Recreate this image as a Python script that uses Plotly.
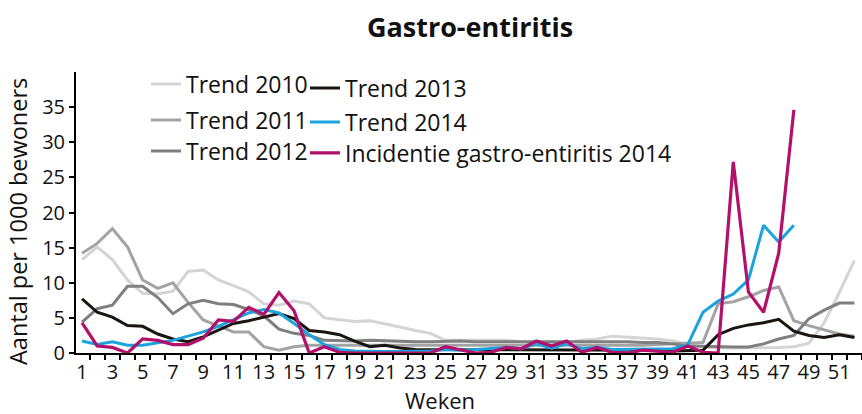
import plotly.graph_objects as go

weeks = list(range(1, 53))
weeks_2014 = list(range(1, 49))

trend_2010 = [13.3, 15.1, 13.3, 10.4, 8.5, 8.4, 8.8, 11.6, 11.8, 10.4,
              9.6, 8.7, 7.0, 6.8, 7.4, 7.0, 5.0, 4.7, 4.5, 4.6,
              4.2, 3.7, 3.2, 2.8, 1.8, 1.8, 1.7, 1.7, 1.8, 1.6,
              1.6, 1.5, 1.5, 1.8, 2.0, 2.4, 2.3, 2.1, 2.0, 1.7,
              1.2, 0.9, 0.7, 0.7, 0.7, 0.7, 0.8, 0.9, 1.4, 4.3,
              8.6, 13.2]
trend_2011 = [14.2, 15.6, 17.7, 15.1, 10.4, 9.2, 10.0, 7.2, 4.7, 3.9,
              3.0, 3.0, 0.9, 0.4, 0.9, 1.1, 1.1, 1.1, 1.1, 1.1,
              1.1, 1.0, 1.0, 1.0, 1.0, 1.0, 1.0, 1.0, 1.0, 1.0,
              1.0, 1.0, 1.0, 1.0, 1.0, 1.0, 1.1, 1.1, 1.2, 1.3,
              1.3, 1.5, 7.0, 7.3, 8.0, 8.9, 9.4, 4.6, 3.9, 3.3,
              2.7, 2.4]
trend_2012 = [4.4, 6.3, 6.8, 9.5, 9.5, 7.9, 5.6, 7.0, 7.5, 7.0,
              6.9, 6.2, 5.3, 3.4, 2.8, 2.5, 1.8, 1.7, 1.7, 1.8,
              1.7, 1.7, 1.6, 1.6, 1.7, 1.7, 1.6, 1.6, 1.7, 1.7,
              1.6, 1.6, 1.6, 1.7, 1.7, 1.6, 1.6, 1.5, 1.5, 1.3,
              1.0, 0.95, 0.85, 0.85, 0.85, 1.3, 2.0, 2.5, 4.9, 6.1,
              7.1, 7.1]
trend_2013 = [7.7, 5.8, 5.1, 3.9, 3.8, 2.7, 2.0, 1.6, 2.3, 3.3,
              4.2, 4.6, 5.1, 5.6, 4.9, 3.2, 3.0, 2.6, 1.7, 0.9,
              1.1, 0.7, 0.5, 0.5, 0.5, 0.5, 0.5, 0.4, 0.4, 0.5,
              0.5, 0.4, 0.4, 0.4, 0.4, 0.4, 0.4, 0.4, 0.4, 0.3,
              0.4, 0.4, 2.6, 3.5, 4.0, 4.3, 4.8, 3.1, 2.5, 2.2,
              2.6, 2.2]
trend_2014 = [1.7, 1.2, 1.6, 1.1, 1.1, 1.4, 1.8, 2.4, 3.0, 3.8,
              4.7, 5.7, 6.2, 5.7, 4.2, 2.6, 1.2, 0.5, 0.3, 0.2,
              0.2, 0.2, 0.2, 0.3, 0.5, 0.4, 0.5, 0.6, 0.8, 0.6,
              1.3, 0.7, 1.3, 0.6, 0.8, 0.5, 0.5, 0.5, 0.5, 0.6,
              1.2, 5.8, 7.4, 8.4, 10.4, 18.2, 15.8, 18.2]
incidentie_2014 = [4.3, 1.0, 0.8, 0.0, 2.0, 1.8, 1.2, 1.2, 2.1, 4.7,
                   4.5, 6.5, 5.5, 8.6, 6.0, 0.0, 0.9, 0.1, 0.0, 0.0,
                   0.0, 0.0, 0.0, 0.0, 0.9, 0.4, 0.0, 0.1, 0.8, 0.6,
                   1.7, 1.0, 1.7, 0.1, 0.8, 0.1, 0.0, 0.4, 0.2, 0.1,
                   1.0, 0.1, 0.0, 27.2, 8.7, 5.8, 14.2, 34.6]

y_ticks = [0, 5, 10, 15, 20, 25, 30, 35]
x_label_weeks = weeks[::2]

FONT = "Open Sans"
W, H = 862, 414
ML, MR, MT, MB = 76, 0, 72, 61
PW, PH = W - ML - MR, H - MT - MB


def px(xp):
    return (xp - ML) / PW


def py(yp):
    return (H - MB - yp) / PH


series = [
    ("Trend 2010", weeks, trend_2010, "#d4d4d4", 3, "legend", 154, 84),
    ("Trend 2011", weeks, trend_2011, "#a3a3a3", 3, "legend2", 154, 120),
    ("Trend 2012", weeks, trend_2012, "#7f7f7f", 3, "legend3", 154, 151),
    ("Trend 2013", weeks, trend_2013, "#1a1511", 3, "legend4", 313, 88),
    ("Trend 2014", weeks_2014, trend_2014, "#1ba3de", 3, "legend5", 313, 122),
    ("Incidentie gastro-entiritis 2014", weeks_2014, incidentie_2014, "#b3106c", 3.2, "legend6", 313, 153),
]

fig = go.Figure()
legends = {}
for name, xs, ys, color, lw, lg, lx, ly in series:
    fig.add_trace(go.Scatter(x=xs, y=ys, mode="lines", name=name,
                             line=dict(color=color, width=lw),
                             legend=lg, showlegend=True))
    legends[lg] = dict(x=px(lx - 8), y=py(ly), xref="paper", yref="paper",
                       xanchor="left", yanchor="middle", bgcolor="rgba(0,0,0,0)",
                       borderwidth=0, font=dict(family=FONT, size=23, color="#111111"))

fig.update_layout(**legends)

fig.update_layout(
    width=W, height=H,
    margin=dict(l=ML, r=MR, t=MT, b=MB, autoexpand=False),
    paper_bgcolor="white", plot_bgcolor="white",
    font=dict(family=FONT, color="#111111"),
    title=dict(text="<b>Gastro-entiritis</b>", x=470 / W, xanchor="center",
               y=1 - 28 / H, yanchor="middle", xref="container", yref="container",
               font=dict(family=FONT, size=27, color="#111111")),
    xaxis=dict(range=[0.6, 52.5], showgrid=False, zeroline=False,
               showline=True, linecolor="black", linewidth=2,
               tickmode="array", tickvals=x_label_weeks,
               ticktext=[str(w) for w in x_label_weeks],
               ticks="", tickfont=dict(family=FONT, size=20, color="#111111"),
               minor=dict(tickmode="array", tickvals=[w - 0.5 for w in weeks] + [52.5],
                          ticks="outside", ticklen=5, tickwidth=1.5, tickcolor="black",
                          showgrid=False)),
    yaxis=dict(range=[0, 40], showgrid=False, zeroline=False,
               showline=True, linecolor="black", linewidth=2,
               tickmode="array", tickvals=y_ticks, ticks="outside", ticklen=5,
               tickwidth=1.5, tickcolor="black",
               tickfont=dict(family=FONT, size=20, color="#111111")),
    annotations=[
        dict(text="Aantal per 1000 bewoners", textangle=-90, x=px(18), y=py(222),
             xref="paper", yref="paper", xanchor="center", yanchor="middle",
             showarrow=False, font=dict(family=FONT, size=23.5, color="#111111")),
        dict(text="Weken", x=px(440), y=py(400), xref="paper", yref="paper",
             xanchor="center", yanchor="middle",
             showarrow=False, font=dict(family=FONT, size=22, color="#111111")),
    ],
)

fig.write_html("out.html", config={"displayModeBar": False},
               post_script="document.body.style.margin='0';document.body.style.padding='0';")
